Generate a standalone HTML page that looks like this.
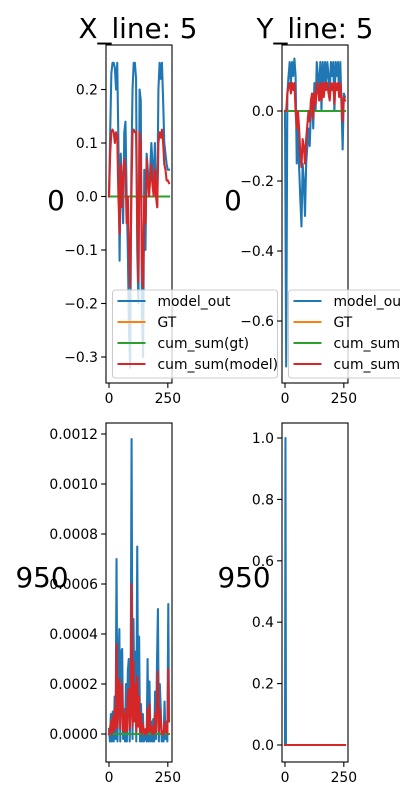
<!DOCTYPE html>
<html><head><meta charset="utf-8"><style>
html,body{margin:0;padding:0;background:#fff;width:400px;height:800px;overflow:hidden}
svg{display:block;font-family:"DejaVu Sans","Liberation Sans",sans-serif}
</style></head><body>
<svg id="fig" width="400" height="800" viewBox="0 0 400 800">
<text x="138" y="38" font-size="27.8" text-anchor="middle">X_line: 5</text>
<text x="315" y="38" font-size="27.8" text-anchor="middle">Y_line: 5</text>
<text x="56" y="210" font-size="27.8" text-anchor="middle">0</text>
<text x="233" y="210" font-size="27.8" text-anchor="middle">0</text>
<text x="42" y="587" font-size="27.8" text-anchor="middle">950</text>
<text x="244" y="587" font-size="27.8" text-anchor="middle">950</text>
</svg>
<script>
// ---- data ----
const xStep5 = [0,5,10,15,20,25,30,35,40,45,50,55,60,65,70,75,80,85,90,95,100,105,110,115,120,125,130,135,140,145,150,155,160,165,170,175,180,185,190,195,200,205,210,215,220,225,230,235,240,245,250,255];
const tlModel = [0,0.12,0.23,0.25,0.25,0.24,0.2,0.25,0.1,-0.12,0.08,0.02,-0.05,0.12,0.14,0.0,-0.1,-0.25,-0.32,0.05,0.2,0.25,0.25,0.22,-0.1,-0.2,0.2,0.18,-0.22,-0.3,0.05,-0.1,0.08,0.05,0.0,0.05,0.1,0.06,0.02,0.1,0.0,-0.02,0.2,0.25,0.22,0.25,0.18,0.1,0.08,0.06,0.05,0.05];
const tlCumModel = [0,0.08,0.12,0.125,0.12,0.1,0.12,0.11,0.0,-0.07,0.06,-0.02,0.03,0.07,0.05,-0.05,0.0,-0.1,-0.17,0.0,0.12,0.125,0.12,0.12,-0.05,-0.16,0.12,0.1,-0.12,-0.17,0.0,-0.05,0.07,0.03,0.0,0.03,0.06,0.02,0.0,0.05,0.0,-0.02,0.1,0.12,0.11,0.125,0.1,0.06,0.05,0.03,0.03,0.025];
const trModel = [0,-0.73,0.05,0.1,0.14,0.08,0.14,0.1,0.15,0.1,-0.15,-0.05,-0.16,-0.25,-0.33,-0.15,-0.2,-0.3,-0.15,-0.1,-0.05,-0.1,0.0,0.05,-0.05,0.08,0.0,0.14,0.1,0.05,0.14,0.0,0.14,0.05,0.14,0.08,0.14,0.1,0.05,0.14,0.1,0.14,0.0,0.14,0.1,0.14,0.05,0.14,0.02,-0.11,0.05,0.04];
const trCumModel = [0,0,0.05,0.07,0.08,0.05,0.08,0.06,0.08,0,-0.05,0,-0.05,-0.12,-0.16,-0.08,-0.1,-0.15,-0.08,-0.04,0,-0.03,0.03,0.05,-0.02,0.05,0.02,0.08,0.06,0.03,0.08,0.03,0.08,0.04,0.08,0.06,0.08,0.05,0.03,0.08,0.06,0.08,0.02,0.08,0.06,0.08,0.04,0.08,0.03,-0.03,0.04,0.03];
const xStep4 = [0,4,8,12,16,20,24,28,32,36,40,44,48,52,56,60,64,68,72,76,80,84,88,92,96,100,104,108,112,116,120,124,128,132,136,140,144,148,152,156,160,164,168,172,176,180,184,188,192,196,200,204,208,212,216,220,224,228,232,236,240,244,248,252,255];
// bottom-left values in units of 1e-4
const blModel = [0.2,-0.3,0.8,-0.3,0.9,-0.3,1.5,-0.2,7.0,-0.3,2.5,4.2,-0.3,3.3,3.4,-0.2,1.0,-0.3,2.0,-0.3,2.5,3.0,-0.3,2.0,11.8,-0.2,4.6,1.0,3.3,-0.3,7.5,0.5,3.9,-0.3,1.2,-0.3,0.8,-0.3,-0.2,0.2,-0.3,3.0,-0.3,2.1,-0.3,0.5,-0.3,0.6,-0.3,1.7,-0.2,2.9,5.0,-0.3,2.0,1.0,-0.3,0.0,-0.3,1.3,-0.2,0.5,-0.3,5.2,0.5];
const blCumModel = [0,0.2,0.5,0,0.7,0.1,1.0,0.2,3.6,0.3,1.2,2.2,0.2,1.5,2.0,0.1,0.8,0.1,1.0,0.1,1.5,1.8,0.2,1.0,6.0,0.3,2.9,0.5,2.0,0.1,2.3,0.3,1.5,0.1,0.8,0,0.4,0.1,0,0.2,0,1.0,0.1,1.2,0.1,0.3,0,0.3,0,0.8,0.1,1.4,2.5,0.1,1.0,0.5,0,0.1,0,0.5,0.1,0.3,0,2.6,0.5];
const brX = [0,2,4,255];
const brModel = [0,1.0,0,0];
const brCumModel = [0,0,0,0];
const xTicks = [0,250];
const tlTicks = [0.2,0.1,0.0,-0.1,-0.2,-0.3];
const tlTickLabels = ["0.2","0.1","0.0","\u22120.1","\u22120.2","\u22120.3"];
const trTicks = [0.0,-0.2,-0.4,-0.6];
const trTickLabels = ["0.0","\u22120.2","\u22120.4","\u22120.6"];
const blTicks = [12,10,8,6,4,2,0];
const blTickLabels = ["0.0012","0.0010","0.0008","0.0006","0.0004","0.0002","0.0000"];
const brTicks = [1.0,0.8,0.6,0.4,0.2,0.0];
const brTickLabels = ["1.0","0.8","0.6","0.4","0.2","0.0"];
const legendLabels = ["model_out","GT","cum_sum(gt)","cum_sum(model)"];
const COLORS = ["#1f77b4","#ff7f0e","#2ca02c","#d62728"];

const svg = document.getElementById('fig');
const NS = "http://www.w3.org/2000/svg";
function mk(tag, attrs, parent){
  const e = document.createElementNS(NS, tag);
  for (const k in attrs) e.setAttribute(k, attrs[k]);
  (parent||svg).appendChild(e);
  return e;
}
function panel(p){
  const g = mk('g', {});
  
  
  const sx = v => p.x0 + (v - (-12.75)) / (267.75 - (-12.75)) * (p.x1 - p.x0);
  const sy = v => p.y1 - (v - p.ymin) / (p.ymax - p.ymin) * (p.y1 - p.y0);
  const clipId = 'c' + p.name;
  const cp = mk('clipPath', {id: clipId}, g);
  mk('rect', {x:p.x0, y:p.y0, width:p.x1-p.x0, height:p.y1-p.y0}, cp);
  const lg = mk('g', {'clip-path':'url(#'+clipId+')'}, g);
  p.series.forEach((s, i) => {
    const d = s.ys.map((v, j) => (j ? 'L' : 'M') + sx(s.xs[j]).toFixed(2) + ',' + sy(v).toFixed(2)).join('');
    const path = mk('path', {d:d, fill:'none', stroke:s.color, 'stroke-width':2.08, 'stroke-linejoin':'round', 'stroke-linecap':'square'}, lg);
    
    
  });
  const frame = mk('rect', {x:p.x0, y:p.y0, width:p.x1-p.x0, height:p.y1-p.y0, fill:'none', stroke:'#000', 'stroke-width':1.1}, g);
  
  
  p.yticks.forEach((v, i) => {
    const y = sy(v);
    mk('line', {x1:p.x0-4.9, x2:p.x0, y1:y, y2:y, stroke:'#000', 'stroke-width':1.1}, g);
    const t = mk('text', {x:p.x0-8, y:y+5, 'font-size':13.9, 'text-anchor':'end'}, g);
    t.textContent = p.ylabels[i];
    
    
  });
  xTicks.forEach(v => {
    const x = sx(v);
    mk('line', {x1:x, x2:x, y1:p.y1, y2:p.y1+4.9, stroke:'#000', 'stroke-width':1.1}, g);
    const t = mk('text', {x:x, y:p.y1+20, 'font-size':13.9, 'text-anchor':'middle'}, g);
    t.textContent = String(v);
    
    
  });
  if (p.legend) {
    const L = p.legend;
    const lgG = mk('g', {}, g);
    
    
    mk('rect', {x:L.x, y:L.y, width:L.w, height:88, rx:3, fill:'rgba(255,255,255,0.8)', stroke:'#cccccc', 'stroke-width':1.1}, lgG);
    legendLabels.forEach((lab, i) => {
      const y = L.y + 11 + i * 21;
      const ent = mk('g', {}, lgG);
      
      
      mk('line', {x1:L.x+5, x2:L.x+33, y1:y, y2:y, stroke:COLORS[i], 'stroke-width':2.08}, ent);
      const t = mk('text', {x:L.x+45, y:y+5, 'font-size':13.9}, ent);
      t.textContent = lab;
    });
  }
}
function series(xs, model, cum, zeroLen){
  const zeros = xs.map(() => 0);
  return [
    {name:'model-out-line', xs:xs, ys:model, color:COLORS[0]},
    {name:'gt-line', xs:xs, ys:zeros, color:COLORS[1]},
    {name:'cum-sum-gt-line', xs:xs, ys:zeros, color:COLORS[2]},
    {name:'cum-sum-model-line', xs:xs, ys:cum, color:COLORS[3]}
  ];
}
panel({name:'panel-x-line-0', x0:106, x1:172, y0:45, y1:383, ymin:-0.3486, ymax:0.2832,
  yticks:tlTicks, ylabels:tlTickLabels, series:series(xStep5, tlModel, tlCumModel), legend:{x:112.5, y:290, w:165}});
panel({name:'panel-y-line-0', x0:282, x1:348, y0:45, y1:383, ymin:-0.7771, ymax:0.1886,
  yticks:trTicks, ylabels:trTickLabels, series:series(xStep5, trModel, trCumModel), legend:{x:288.5, y:290, w:165}});
panel({name:'panel-x-line-950', x0:106, x1:172, y0:423, y1:762, ymin:-1.12, ymax:12.44,
  yticks:blTicks, ylabels:blTickLabels, series:series(xStep4, blModel, blCumModel)});
panel({name:'panel-y-line-950', x0:282, x1:348, y0:423, y1:762, ymin:-0.0554, ymax:1.0489,
  yticks:brTicks, ylabels:brTickLabels, series:series(brX, brModel, brCumModel)});
</script>
</body></html>
